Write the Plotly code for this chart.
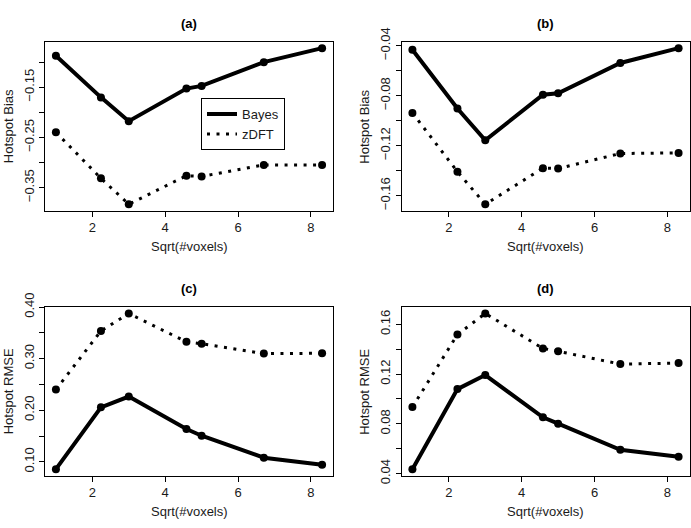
import plotly.graph_objects as go

# ---- data ----
x_sqrt_voxels = [1.0, 2.236, 3.0, 4.583, 5.0, 6.708, 8.307]

bias_a_bayes = [-0.0875, -0.1703, -0.2176, -0.1527, -0.1475, -0.1002, -0.0723]
bias_a_zdft = [-0.2398, -0.3313, -0.3830, -0.3261, -0.3275, -0.3047, -0.3047]

bias_b_bayes = [-0.0433, -0.0903, -0.1157, -0.0793, -0.0781, -0.0539, -0.0420]
bias_b_zdft = [-0.0938, -0.1408, -0.1669, -0.1380, -0.1383, -0.1263, -0.1258]

rmse_c_bayes = [0.0857, 0.2056, 0.2265, 0.1635, 0.1506, 0.1080, 0.0944]
rmse_c_zdft = [0.2400, 0.3537, 0.3876, 0.3326, 0.3289, 0.3098, 0.3104]

rmse_d_bayes = [0.0435, 0.1079, 0.1192, 0.0852, 0.0801, 0.0591, 0.0535]
rmse_d_zdft = [0.0934, 0.1518, 0.1687, 0.1406, 0.1383, 0.1280, 0.1288]

panel_titles = ["(a)", "(b)", "(c)", "(d)"]
y_titles = ["Hotspot Bias", "Hotspot Bias", "Hotspot RMSE", "Hotspot RMSE"]
x_title = "Sqrt(#voxels)"
series_names = ["Bayes", "zDFT"]

x_tickvals = [2, 4, 6, 8]
x_ticktext = ["2", "4", "6", "8"]

y_major = [
    ([-0.15, -0.25, -0.35], ["\u22120.15", "\u22120.25", "\u22120.35"]),
    ([-0.04, -0.08, -0.12, -0.16], ["\u22120.04", "\u22120.08", "\u22120.12", "\u22120.16"]),
    ([0.10, 0.20, 0.30, 0.40], ["0.10", "0.20", "0.30", "0.40"]),
    ([0.04, 0.08, 0.12, 0.16], ["0.04", "0.08", "0.12", "0.16"]),
]
y_minor = [
    [-0.10, -0.20, -0.30],
    [-0.06, -0.10, -0.14],
    [0.15, 0.25, 0.35],
    [0.06, 0.10, 0.14],
]

panels = [
    (bias_a_bayes, bias_a_zdft),
    (bias_b_bayes, bias_b_zdft),
    (rmse_c_bayes, rmse_c_zdft),
    (rmse_d_bayes, rmse_d_zdft),
]

# ---- layout geometry (pixels) ----
W, H = 691, 528
boxes = [  # x0, x1, ytop, ybottom in pixels
    (45, 333, 28, 205),
    (401.5, 689.5, 28, 205),
    (45, 333, 306, 482.5),
    (401.5, 689.5, 306, 482.5),
]

FONT = "Liberation Sans, Arial, Helvetica, sans-serif"
TXT = "#1a1a1a"


def ext_range(vals):
    lo, hi = min(vals), max(vals)
    d = (hi - lo) * 0.041
    return [lo - d, hi + d]


fig = go.Figure()
annotations = []

for i, (bayes, zdft) in enumerate(panels):
    n = "" if i == 0 else str(i + 1)
    xa, ya = "x" + n, "y" + n
    fig.add_trace(go.Scatter(
        x=x_sqrt_voxels, y=zdft, mode="lines+markers", xaxis=xa, yaxis=ya,
        line=dict(color="black", width=3, dash="3px,6.5px"),
        marker=dict(color="black", size=8), showlegend=False, hoverinfo="skip",
        cliponaxis=False))
    fig.add_trace(go.Scatter(
        x=x_sqrt_voxels, y=bayes, mode="lines+markers", xaxis=xa, yaxis=ya,
        line=dict(color="black", width=4),
        marker=dict(color="black", size=8), showlegend=False, hoverinfo="skip",
        cliponaxis=False))

    x0, x1, yt, yb = boxes[i]
    xr = ext_range(x_sqrt_voxels)
    yr = ext_range(bayes + zdft)
    axis_common = dict(
        showline=True, mirror=True, linecolor="black", linewidth=1,
        ticks="outside", ticklen=5, tickcolor="black", tickwidth=1,
        showgrid=False, zeroline=False,
        tickfont=dict(family=FONT, size=13, color=TXT),
    )
    fig.layout["xaxis" + n] = dict(
        axis_common, domain=[x0 / W, x1 / W], range=xr, anchor=ya,
        tickmode="array", tickvals=x_tickvals, ticktext=x_ticktext)
    tv, tt = y_major[i]
    fig.layout["yaxis" + n] = dict(
        axis_common, domain=[(H - yb) / H, (H - yt) / H], range=yr, anchor=xa,
        tickmode="array", tickvals=tv, ticktext=tt, tickangle=-90,
        minor=dict(tickmode="array", tickvals=y_minor[i], ticks="outside",
                   ticklen=5, tickcolor="black", tickwidth=1, showgrid=False))

    xc = (x0 + x1) / 2
    ycent = (yt + yb) / 2
    annotations.append(dict(
        text="<b>" + panel_titles[i] + "</b>", x=xc / W, y=(H - (yt - 19)) / H,
        xref="paper", yref="paper", showarrow=False, xanchor="center", yanchor="middle",
        font=dict(family=FONT, size=13, color="black")))
    annotations.append(dict(
        text=x_title, x=xc / W, y=(H - (yb + 38)) / H,
        xref="paper", yref="paper", showarrow=False, xanchor="center", yanchor="middle",
        font=dict(family=FONT, size=13, color=TXT)))
    annotations.append(dict(
        text=y_titles[i], x=(x0 - 37) / W, y=(H - ycent) / H, textangle=-90,
        xref="paper", yref="paper", showarrow=False, xanchor="center", yanchor="middle",
        font=dict(family=FONT, size=13, color=TXT)))

# legend entries (line samples only)
fig.add_trace(go.Scatter(x=[None], y=[None], mode="lines", name=series_names[0],
                         line=dict(color="black", width=4)))
fig.add_trace(go.Scatter(x=[None], y=[None], mode="lines", name=series_names[1],
                         line=dict(color="black", width=3, dash="3px,6.5px")))

fig.update_layout(
    width=W, height=H,
    margin=dict(l=0, r=0, t=0, b=0),
    paper_bgcolor="white", plot_bgcolor="white",
    annotations=annotations,
    legend=dict(x=201 / W, y=(H - 87) / H, xanchor="left", yanchor="top",
                bgcolor="white", bordercolor="black", borderwidth=1,
                font=dict(family=FONT, size=13, color=TXT),
                itemwidth=30, tracegroupgap=0),
    showlegend=True,
)

fig.write_html("out.html", config={"displayModeBar": False},
               post_script="document.body.style.margin='0';")
